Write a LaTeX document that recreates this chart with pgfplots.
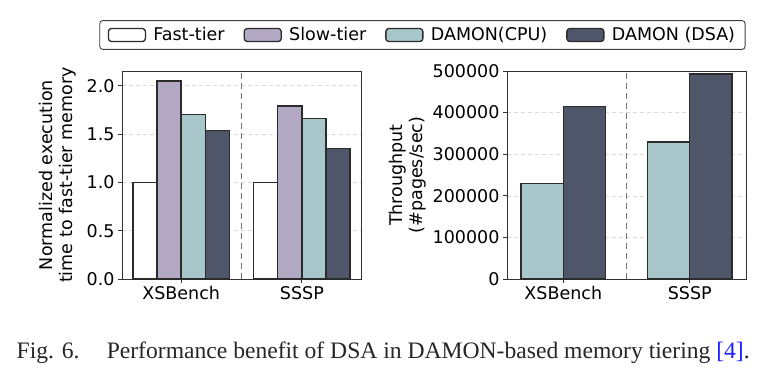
\documentclass[border=0pt]{standalone}
\usepackage{pgfplots}
\pgfplotsset{compat=1.18}
\usepackage{fontspec}
\setmainfont{DejaVu Sans}
\newfontfamily\capfont{Liberation Serif}
\definecolor{slowc}{HTML}{B3A9C5}
\definecolor{cpuc}{HTML}{A7C7CB}
\definecolor{dsac}{HTML}{4F5669}
\definecolor{edgec}{HTML}{2B2B2B}
\definecolor{capblue}{HTML}{1F1FFF}

\pgfplotsset{
  myaxis/.style={
    scale only axis, width=239pt, height=208pt,
    ybar, 
    xtick={0,1}, xticklabels={XSBench,SSSP},
    ymin=0,
    ymajorgrids, grid style={dash pattern=on 4pt off 3pt, black!15, line width=0.6pt},
    axis line style={black!80, line width=0.8pt},
    tick style={black!80, line width=0.8pt},
    tick align=outside, major tick length=4pt,
    xtick pos=left, ytick pos=left,
    /pgf/number format/assume math mode=true,
    ylabel style={align=center},
  },
  barst/.style={draw=edgec, line width=1.3pt, fill=#1},
}

\begin{document}
\begin{tikzpicture}[font=\fontsize{17.5}{20}\selectfont]
\useasboundingbox (0,0) rectangle (776pt,384pt);

\begin{axis}[myaxis, at={(122pt,105pt)}, anchor=south west,
  bar width=0.2, xmin=-0.49, xmax=1.49,
  ymax=2.1525, ytick={0,0.5,1,1.5,2},
  yticklabel style={/pgf/number format/.cd, fixed, fixed zerofill, precision=1},
  ylabel={Normalized execution\\time to fast-tier memory},
  ylabel shift=4pt,
  legend columns=4,
  legend image code/.code={\draw[#1] (0pt,-6.5pt) rectangle (37pt,6.5pt); \path[draw=none,fill=none] (0pt,0pt) -- (43pt,0pt);},
  legend style={at={(1.257,1.173)}, anchor=center, draw=black!75,
    rounded corners=3pt, line width=0.9pt, inner xsep=8pt, inner ysep=5pt,
    /tikz/every even column/.append style={column sep=17pt}},
]
\addplot[barst=white, bar shift=-0.3] coordinates {(0,1.00) (1,1.00)};
\addlegendentry{Fast-tier}
\addplot[barst=slowc, bar shift=-0.1] coordinates {(0,2.05) (1,1.79)};
\addlegendentry{Slow-tier}
\addplot[barst=cpuc, bar shift=0.1] coordinates {(0,1.70) (1,1.66)};
\addlegendentry{DAMON(CPU)}
\addplot[barst=dsac, bar shift=0.3] coordinates {(0,1.54) (1,1.35)};
\addlegendentry{DAMON (DSA)}
\draw[dash pattern=on 6pt off 4pt, black!55, line width=1.1pt] (axis cs:0.5,0) -- (axis cs:0.5,2.1525);
\end{axis}

\begin{axis}[myaxis, at={(507pt,105pt)}, anchor=south west,
  bar width=0.335, xmin=-0.445, xmax=1.445,
  ymax=500000, ytick={0,100000,200000,300000,400000,500000},
  scaled y ticks=false,
  yticklabel style={/pgf/number format/.cd, fixed, 1000 sep={}},
  ylabel={Throughput\\(\#pages/sec)},
]
\addplot[barst=cpuc, bar shift=-0.1675] coordinates {(0,230000) (1,329000)};
\addplot[barst=dsac, bar shift=0.1675] coordinates {(0,414000) (1,493000)};
\draw[dash pattern=on 6pt off 4pt, black!55, line width=1.1pt] (axis cs:0.5,0) -- (axis cs:0.5,500000);
\end{axis}

\node[anchor=base west, inner sep=0pt, font=\capfont\fontsize{23.6}{28}\selectfont, text=black!85] at (16.5pt,25.7pt)
  {Fig. 6.\hspace{1.15em}Performance benefit of DSA in DAMON-based memory tiering \textcolor{capblue}{[4]}.};
\end{tikzpicture}
\end{document}
